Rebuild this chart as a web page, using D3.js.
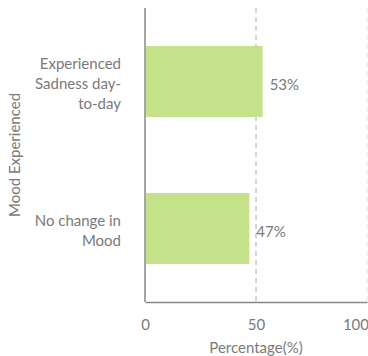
<!DOCTYPE html>
<html>
<head>
<meta charset="utf-8">
<script src="https://cdn.jsdelivr.net/npm/d3@7"></script>
<style>
  body { margin: 0; background: #fff; }
  text { font-family: Lato, "Open Sans", sans-serif; fill: #7a7a7a; }
  .axis path, .axis line { stroke: #888; }
</style>
</head>
<body>
<div id="chart"></div>
<script>
var categories = [
  ["Experienced", "Sadness day-", "to-day"],
  ["No change in", "Mood"]
];
var values = [53, 47];
var xTicks = [0, 50, 100];
var gridLines = [50, 100];

var margin = {top: 8, right: 1, bottom: 54, left: 145};
var width = 368 - margin.left - margin.right,
    height = 356 - margin.top - margin.bottom;

var svg = d3.select("#chart").append("svg")
    .attr("width", 368).attr("height", 356);
var g = svg.append("g").attr("transform", "translate(" + margin.left + "," + margin.top + ")");

var x = d3.scaleLinear().domain([0, 100]).range([0, width]);
var y = d3.scaleBand()
    .domain(d3.range(categories.length))
    .range([0, height])
    .paddingInner(0.517)
    .paddingOuter(0.2585);

// dashed grid
g.selectAll(".grid")
  .data(gridLines)
  .enter().append("line")
    .attr("class", "grid")
    .attr("x1", function(d) { return x(d); })
    .attr("x2", function(d) { return x(d); })
    .attr("y1", 0).attr("y2", height)
    .attr("stroke", function(d) { return d == 100 ? "#e4e4e4" : "#aaa"; })
    .attr("stroke-width", 1)
    .attr("stroke-dasharray", "5,4");

// bars
g.selectAll(".bar")
  .data(values)
  .enter().append("rect")
    .attr("class", "bar")
    .attr("x", 1)
    .attr("y", function(d, i) { return y(i); })
    .attr("width", function(d) { return x(d) - 1; })
    .attr("height", y.bandwidth())
    .attr("fill", "#c5e28a");

// value labels
g.selectAll(".val")
  .data(values)
  .enter().append("text")
    .attr("class", "val")
    .attr("x", function(d) { return x(d) + 7; })
    .attr("y", function(d, i) { return y(i) + y.bandwidth() / 2 + 3; })
    .attr("dy", "0.35em")
    .style("font-size", "15px")
    .text(function(d) { return d + "%"; });

// x axis
var xAxis = g.append("g")
    .attr("class", "axis")
    .attr("transform", "translate(0," + height + ")")
    .call(d3.axisBottom(x).tickValues(xTicks).tickSize(0).tickPadding(17));
xAxis.select(".domain").attr("stroke-width", 1.5);
xAxis.selectAll("text").style("font-size", "15px");
xAxis.selectAll(".tick:last-child text").attr("text-anchor", "end").attr("dx", "0.1em");

// y axis line
g.append("line")
    .attr("x1", 0).attr("x2", 0)
    .attr("y1", 0).attr("y2", height)
    .attr("stroke", "#888").attr("stroke-width", 1.5);

// category labels
var cat = g.selectAll(".cat")
  .data(categories)
  .enter().append("text")
    .attr("class", "cat")
    .attr("text-anchor", "end")
    .style("font-size", "15px")
    .attr("transform", function(d, i) {
      var cy = y(i) + y.bandwidth() / 2 + 2 - (d.length - 1) * 10;
      return "translate(-24," + cy + ")";
    });
cat.selectAll("tspan")
  .data(function(d) { return d; })
  .enter().append("tspan")
    .attr("x", 0)
    .attr("y", function(d, i) { return i * 20; })
    .attr("dy", "0.35em")
    .text(function(d) { return d; });

// axis titles
svg.append("text")
    .attr("text-anchor", "middle")
    .attr("transform", "translate(15," + (margin.top + height / 2) + ") rotate(-90)")
    .attr("dy", "0.35em")
    .style("font-size", "15px")
    .text("Mood Experienced");

svg.append("text")
    .attr("text-anchor", "middle")
    .attr("x", margin.left + width / 2)
    .attr("y", 348)
    .attr("dy", "0.35em")
    .style("font-size", "15px")
    .text("Percentage(%)");
</script>
</body>
</html>
